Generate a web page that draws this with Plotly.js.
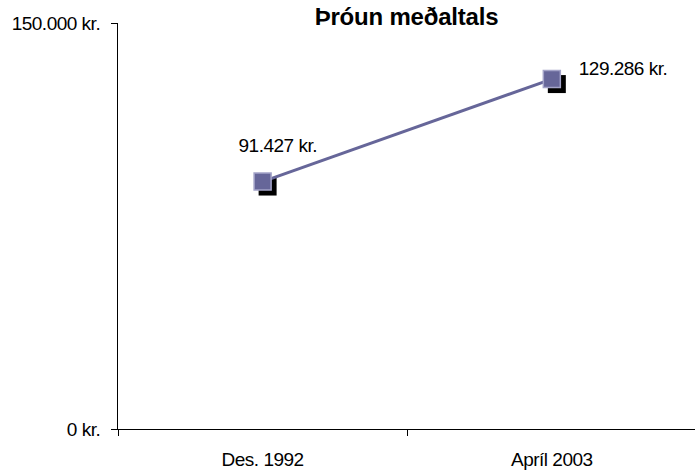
<!DOCTYPE html>
<html>
<head>
<meta charset="utf-8">
<script src="https://cdn.plot.ly/plotly-3.0.1.min.js"></script>
<style>
  html, body { margin: 0; padding: 0; background: #fff; }
  #chart { width: 695px; height: 473px; }
  .main-svg text { letter-spacing: -0.5px; }
  .main-svg text.gtitle { letter-spacing: -0.2px; }
</style>
</head>
<body>
<div id="chart"></div>
<script>
const categories = ['Des. 1992', 'Apríl 2003'];
const values = [91427, 129286];
const yTickValues = [0, 150000];
const chartTitle = 'Þróun meðaltals';

function fmtKr(n) {
  return String(n).replace(/\B(?=(\d{3})+(?!\d))/g, '.') + ' kr.';
}

const W = 695, H = 473;
const margin = {l: 118, r: 0, t: 23, b: 44, pad: 0};
const plotW = W - margin.l - margin.r;
const plotH = H - margin.t - margin.b;
const yMax = 150000;
const xRange = [-0.5, categories.length - 0.505];
const shadowPx = 5;
const dx = shadowPx * (xRange[1] - xRange[0]) / plotW;
const dy = shadowPx * yMax / plotH;

const font = {family: 'Liberation Sans, Arial, sans-serif', size: 19, color: '#000'};

const shadow = {
  x: categories, y: values, xaxis: 'x', yaxis: 'y',
  type: 'scatter', mode: 'markers', hoverinfo: 'skip',
  marker: {symbol: 'square', size: 18, color: '#000', line: {width: 0}}
};
const main = {
  x: categories, y: values, xaxis: 'x2', yaxis: 'y2',
  type: 'scatter', mode: 'lines+markers',
  line: {color: '#666699', width: 3},
  marker: {symbol: 'square', size: 17, color: '#666699', line: {color: '#a3a3c8', width: 1.5}}
};

const layout = {
  width: W, height: H,
  margin: margin,
  paper_bgcolor: '#fff', plot_bgcolor: 'rgba(0,0,0,0)',
  showlegend: false,
  font: font,
  title: {
    text: '<b>' + chartTitle + '</b>',
    font: {family: 'Liberation Sans, Arial, sans-serif', size: 24, color: '#000'},
    xref: 'paper', x: 0.5, xanchor: 'center',
    yref: 'container', y: 1 - 17 / H, yanchor: 'middle'
  },
  xaxis: {
    type: 'category', range: [xRange[0] - dx, xRange[1] - dx],
    visible: false, fixedrange: true
  },
  yaxis: {
    range: [dy, yMax + dy], visible: false, fixedrange: true
  },
  xaxis2: {
    type: 'category', overlaying: 'x', anchor: 'y2',
    range: xRange,
    showline: true, linecolor: '#000', linewidth: 1,
    ticks: 'outside', ticklen: 6, tickwidth: 1, tickcolor: '#000',
    tickson: 'boundaries',
    showgrid: false, zeroline: false,
    tickfont: font, ticklabelstandoff: 13
  },
  yaxis2: {
    overlaying: 'y', anchor: 'x2',
    range: [0, yMax],
    tickvals: yTickValues, ticktext: yTickValues.map(fmtKr),
    showline: true, linecolor: '#000', linewidth: 1,
    ticks: 'outside', ticklen: 6, tickwidth: 1, tickcolor: '#000',
    showgrid: false, zeroline: false,
    tickfont: font, ticklabelstandoff: 7
  },
  annotations: [
    {x: categories[0], y: values[0], xref: 'x2', yref: 'y2', text: fmtKr(values[0]),
     showarrow: false, xanchor: 'center', yanchor: 'middle', xshift: 15, yshift: 36, font: font},
    {x: categories[1], y: values[1], xref: 'x2', yref: 'y2', text: fmtKr(values[1]),
     showarrow: false, xanchor: 'left', yanchor: 'middle', xshift: 22, yshift: 11, font: font}
  ]
};

Plotly.newPlot('chart', [shadow, main], layout, {staticPlot: true, displayModeBar: false});
</script>
</body>
</html>
